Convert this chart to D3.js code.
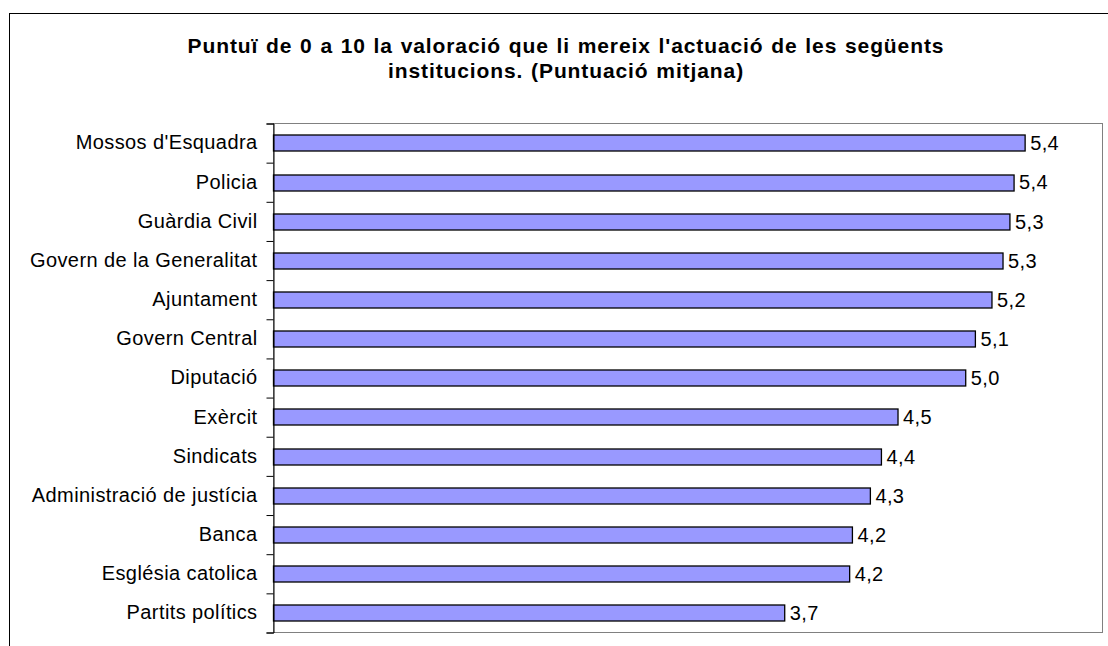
<!DOCTYPE html>
<html>
<head>
<meta charset="utf-8">
<script src="https://cdn.jsdelivr.net/npm/d3@7"></script>
<style>
  body { margin: 0; background: #fff; }
  text { font-family: "Liberation Sans", Arial, sans-serif; fill: #000; }
</style>
</head>
<body>
<div id="chart"></div>
<script>
var svgWidth = 1108;
var svgHeight = 646;

// data
var categories = ["Mossos d'Esquadra", "Policia", "Guàrdia Civil", "Govern de la Generalitat",
  "Ajuntament", "Govern Central", "Diputació", "Exèrcit", "Sindicats",
  "Administració de justícia", "Banca", "Església catolica", "Partits polítics"];
var values = [5.44, 5.36, 5.33, 5.28, 5.20, 5.08, 5.01, 4.52, 4.40, 4.32, 4.19, 4.17, 3.70];
var xDomain = [0, 6];
var titleLines = ["Puntuï de 0 a 10 la valoració que li mereix l'actuació de les següents",
  "institucions. (Puntuació mitjana)"];

var margin = { top: 123.5, right: 5.5, bottom: 13.5, left: 273.5 };
var width = svgWidth - margin.left - margin.right;
var height = svgHeight - margin.top - margin.bottom;

var svg = d3.select("#chart")
  .append("svg")
  .attr("width", svgWidth)
  .attr("height", svgHeight);

// outer chart border (runs off the right and bottom edge)
svg.append("rect")
  .attr("x", 9.5)
  .attr("y", 13.5)
  .attr("width", 1130)
  .attr("height", 700)
  .attr("fill", "none")
  .attr("stroke", "#000")
  .attr("stroke-width", 1);

// title
svg.append("g")
  .selectAll("text")
  .data(titleLines)
  .enter()
  .append("text")
  .attr("x", 566)
  .attr("y", (d, i) => 53 + i * 25)
  .attr("text-anchor", "middle")
  .style("font-size", "21px")
  .style("font-weight", "bold")
  .style("letter-spacing", "0.9px")
  .style("word-spacing", "1px")
  .text(d => d);

var chartGroup = svg.append("g")
  .attr("transform", `translate(${margin.left}, ${margin.top})`);

// scales
var xLinearScale = d3.scaleLinear()
  .domain(xDomain)
  .range([0, width]);

var yBandScale = d3.scaleBand()
  .domain(categories)
  .range([0, height])
  .paddingInner(0.58)
  .paddingOuter(0.29);

var yTickScale = d3.scaleLinear()
  .domain([0, categories.length])
  .range([0, height]);

// plot area border
chartGroup.append("rect")
  .attr("width", width)
  .attr("height", height)
  .attr("fill", "#fff")
  .attr("stroke", "#808080")
  .attr("stroke-width", 1);

// bars
chartGroup.selectAll(".bar")
  .data(values)
  .enter()
  .append("rect")
  .attr("class", "bar")
  .attr("x", xLinearScale(0))
  .attr("y", (d, i) => Math.round(yBandScale(categories[i])) + 0.5)
  .attr("width", d => xLinearScale(d) - xLinearScale(0))
  .attr("height", Math.round(yBandScale.bandwidth()))
  .attr("fill", "#9999ff")
  .attr("stroke", "#000")
  .attr("stroke-width", 1.3);

// value labels
var fmt = d3.format(".1f");
chartGroup.selectAll(".value")
  .data(values)
  .enter()
  .append("text")
  .attr("class", "value")
  .attr("x", d => xLinearScale(d) + 5)
  .attr("y", (d, i) => yBandScale(categories[i]) + yBandScale.bandwidth() / 2)
  .attr("dy", "0.36em")
  .style("font-size", "20px")
  .style("letter-spacing", "0.4px")
  .text(d => fmt(d).replace(".", ","));

// left axis: ticks between categories
var tickAxis = d3.axisLeft(yTickScale)
  .tickValues(d3.range(0, categories.length + 1))
  .tickSize(7)
  .tickFormat("");

chartGroup.append("g")
  .attr("class", "tick-axis")
  .call(tickAxis)
  .call(g => g.selectAll("line").attr("stroke", "#000"))
  .call(g => g.select(".domain").attr("stroke", "#000"));

// left axis: category labels
var leftAxis = d3.axisLeft(yBandScale)
  .tickSize(0)
  .tickPadding(16);

chartGroup.append("g")
  .attr("class", "label-axis")
  .call(leftAxis)
  .call(g => g.select(".domain").remove())
  .call(g => g.selectAll("text")
    .style("font-family", "'Liberation Sans', Arial, sans-serif")
    .style("font-size", "20px")
    .style("letter-spacing", "0.4px")
    .attr("fill", "#000"));
</script>
</body>
</html>
